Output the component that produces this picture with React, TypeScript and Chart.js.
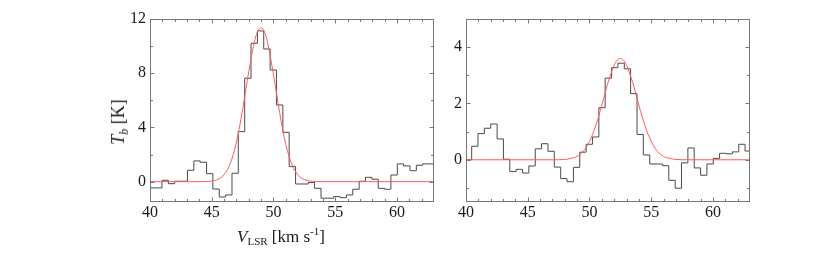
import React, { useEffect, useRef } from "react";
import { Chart, registerables } from "chart.js";
Chart.register(...registerables);

// Channel edges (km/s) shared by both spectra
const channelEdges = [
  39.94, 40.46, 40.97, 41.49, 42.0, 42.52, 43.03, 43.55, 44.06, 44.58, 45.09,
  45.61, 46.12, 46.64, 47.15, 47.67, 48.18, 48.7, 49.21, 49.73, 50.24, 50.76,
  51.27, 51.79, 52.3, 52.82, 53.33, 53.85, 54.36, 54.88, 55.39, 55.91, 56.42,
  56.94, 57.45, 57.97, 58.48, 59.0, 59.51, 60.03, 60.54, 61.06, 61.57, 62.09,
  62.6, 63.12,
];

// Left spectrum brightness temperature per channel (K)
const tbLeft = [
  -0.46, -0.46, 0.1, -0.15, 0.03, 0.03, 0.84, 1.53, 1.43, 0.59,
  -0.54, -1.13, -0.98, 0.62, 3.69, 7.63, 10.21, 11.12, 9.79, 8.24,
  5.66, 3.64, 1.11, -0.17, -0.17, -0.06, -0.49, -1.22, -1.22, -1.1,
  -1.18, -0.98, -0.56, 0.03, 0.32, 0.18, -0.49, -0.56, 0.49, 1.31,
  1.16, 0.81, 1.21, 1.31, 1.31,
];

// Right spectrum brightness temperature per channel (K)
const tbRight = [
  0.0, 0.48, 0.93, 1.12, 1.27, 0.74, 0.02, -0.42, -0.34, -0.47,
  -0.22, 0.39, 0.57, 0.3, -0.26, -0.67, -0.78, -0.27, 0.27, 0.55,
  0.81, 1.85, 2.9, 3.27, 3.43, 3.23, 2.35, 0.9, 0.17, -0.15,
  -0.15, -0.21, -0.73, -1.01, -0.11, 0.42, -0.29, -0.55, -0.15, 0.05,
  0.23, 0.21, 0.28, 0.55, 0.31,
];

// Gaussian fit curves
const fitVelLeft = [40, 44, 44.5, 45, 45.5, 46, 46.5, 47, 47.5, 48, 48.5, 48.75, 49, 49.25, 49.5, 50, 50.5, 51, 51.5, 52, 52.5, 53, 53.5, 54, 63];
const fitTbLeft = [0, 0, 0.01, 0.05, 0.17, 0.52, 1.34, 2.91, 5.31, 8.13, 10.48, 11.14, 11.35, 11.1, 10.33, 7.91, 5.09, 2.75, 1.25, 0.48, 0.15, 0.04, 0.01, 0, 0];
const fitVelRight = [40, 47, 48, 48.5, 49, 49.5, 50, 50.5, 51, 51.5, 52, 52.25, 52.5, 52.75, 53, 53.5, 54, 54.5, 55, 55.5, 56, 56.5, 57, 58, 63];
const fitTbRight = [0, 0, 0.01, 0.05, 0.12, 0.3, 0.65, 1.2, 1.94, 2.74, 3.36, 3.54, 3.6, 3.54, 3.36, 2.74, 1.94, 1.2, 0.65, 0.3, 0.12, 0.05, 0.01, 0, 0];

// Ticks
const xTickLabels = [40, 45, 50, 55, 60];
const xMinorTicks = [40, 41, 42, 43, 44, 45, 46, 47, 48, 49, 50, 51, 52, 53, 54, 55, 56, 57, 58, 59, 60, 61, 62, 63];
const yTicksLeft = [0, 4, 8, 12];
const yMinorLeft = [0, 2, 4, 6, 8, 10, 12];
const yTicksRight = [0, 2, 4];
const yMinorRight = [-1, 0, 1, 2, 3, 4, 5];

const FONT = "'Liberation Serif', 'Times New Roman', serif";

const framePlugin = {
  id: "frame",
  afterDatasetsDraw(chart: any, _args: any, opts: any) {
    const { ctx, chartArea: a, scales } = chart;
    ctx.save();
    ctx.strokeStyle = "#777";
    ctx.lineWidth = 1;
    const L = Math.round(a.left) + 0.5;
    const R = Math.round(a.right) - 0.5;
    const T = Math.round(a.top) + 0.5;
    const B = Math.round(a.bottom) - 0.5;
    ctx.strokeRect(L, T, R - L, B - T);
    ctx.beginPath();
    const xs = scales.x;
    const ys = scales.y;
    for (const v of xMinorTicks) {
      const len = xTickLabels.includes(v) ? 4 : 2.5;
      const px = Math.round(xs.getPixelForValue(v)) + 0.5;
      if (px <= L || px >= R) continue;
      ctx.moveTo(px, B);
      ctx.lineTo(px, B - len);
      ctx.moveTo(px, T);
      ctx.lineTo(px, T + len);
    }
    for (const v of opts.yMinor) {
      const len = opts.yMajor.includes(v) ? 4 : 2.5;
      const py = Math.round(ys.getPixelForValue(v)) + 0.5;
      if (py <= T || py >= B) continue;
      ctx.moveTo(L, py);
      ctx.lineTo(L + len, py);
      ctx.moveTo(R, py);
      ctx.lineTo(R - len, py);
    }
    ctx.stroke();
    ctx.restore();
  },
};

function makeConfig(
  tb: number[],
  fitV: number[],
  fitT: number[],
  yMin: number,
  yMax: number,
  yMajor: number[],
  yMinor: number[],
  padLeft: number,
  padRight: number
): any {
  const stepData = channelEdges.map((x, i) => ({ x, y: tb[Math.min(i, tb.length - 1)] }));
  const fitData = fitV.map((x, i) => ({ x, y: fitT[i] }));
  return {
    type: "line",
    data: {
      datasets: [
        {
          data: fitData,
          borderColor: "#ff5a5a",
          borderWidth: 1,
          pointRadius: 0,
          cubicInterpolationMode: "monotone",
          fill: false,
        },
        {
          data: stepData,
          borderColor: "#4a4a4a",
          borderWidth: 1,
          pointRadius: 0,
          stepped: true,
          fill: false,
        },
      ],
    },
    options: {
      responsive: false,
      animation: false,
      events: [],
      layout: { padding: { left: padLeft, right: padRight, top: 19, bottom: 26 } },
      plugins: {
        legend: { display: false },
        tooltip: { enabled: false },
        frame: { yMajor, yMinor },
      },
      scales: {
        x: {
          type: "linear",
          min: 40,
          max: 63,
          grid: { display: false, drawTicks: false },
          border: { display: false },
          ticks: {
            color: "#1a1a1a",
            font: { family: FONT, size: 16 },
            padding: 1,
            maxRotation: 0,
            autoSkip: false,
          },
          afterBuildTicks: (s: any) => {
            s.ticks = xTickLabels.map((v) => ({ value: v }));
          },
          afterFit: (s: any) => {
            s.height = 30;
          },
        },
        y: {
          type: "linear",
          min: yMin,
          max: yMax,
          grid: { display: false, drawTicks: false },
          border: { display: false },
          ticks: {
            color: "#1a1a1a",
            font: { family: FONT, size: 16 },
            padding: 4,
          },
          afterBuildTicks: (s: any) => {
            s.ticks = yMajor.map((v) => ({ value: v }));
          },
          afterFit: (s: any) => {
            s.width = 40;
          },
        },
      },
    },
    plugins: [framePlugin],
  };
}

export default function App() {
  const leftRef = useRef<HTMLCanvasElement>(null);
  const rightRef = useRef<HTMLCanvasElement>(null);

  useEffect(() => {
    const c1 = new Chart(
      leftRef.current as HTMLCanvasElement,
      makeConfig(tbLeft, fitVelLeft, fitTbLeft, -1.5, 12, yTicksLeft, yMinorLeft, 110, 396)
    );
    const c2 = new Chart(
      rightRef.current as HTMLCanvasElement,
      makeConfig(tbRight, fitVelRight, fitTbRight, -1.5, 5, yTicksRight, yMinorRight, 426, 80)
    );
    return () => {
      c1.destroy();
      c2.destroy();
    };
  }, []);

  const canvasStyle: React.CSSProperties = {
    position: "absolute",
    left: 0,
    top: 0,
    width: 830,
    height: 258,
  };

  return (
    <div
      style={{
        position: "fixed",
        left: 0,
        top: 0,
        width: 830,
        height: 258,
        background: "#fff",
        fontFamily: FONT,
        color: "#1a1a1a",
      }}
    >
      <canvas ref={leftRef} width={830} height={258} style={canvasStyle} />
      <canvas ref={rightRef} width={830} height={258} style={canvasStyle} />
      <div
        style={{
          position: "absolute",
          left: 118,
          top: 122,
          transform: "translate(-50%, -50%) rotate(-90deg)",
          whiteSpace: "nowrap",
          fontSize: 18,
          lineHeight: "18px",
        }}
      >
        <i>T</i>
        <sub style={{ fontSize: 12, lineHeight: 0, verticalAlign: "-0.3em" }}>
          <i>b</i>
        </sub>{" "}
        [K]
      </div>
      <div
        style={{
          position: "absolute",
          left: 281,
          top: 236,
          transform: "translate(-50%, -50%)",
          whiteSpace: "nowrap",
          fontSize: 17,
          lineHeight: "17px",
        }}
      >
        <i>V</i>
        <sub style={{ fontSize: 11, lineHeight: 0, verticalAlign: "-0.3em" }}>LSR</sub> [km s
        <sup style={{ fontSize: 11, lineHeight: 0, verticalAlign: "0.55em" }}>-1</sup>]
      </div>
    </div>
  );
}
